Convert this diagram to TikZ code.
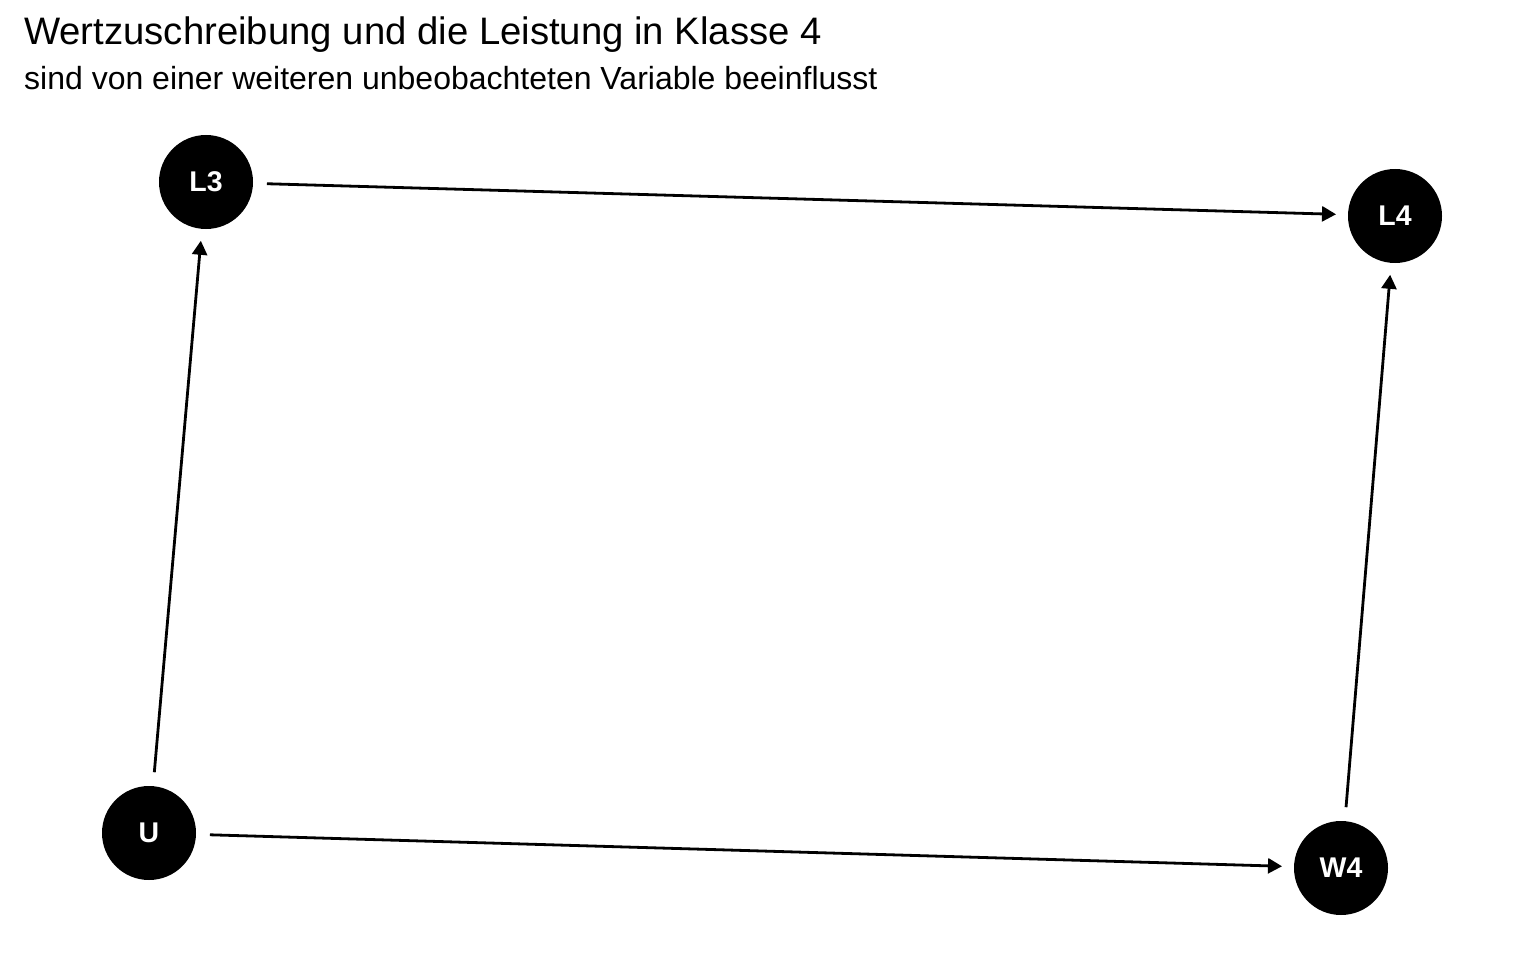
\documentclass[tikz,border=0pt]{standalone}
\usepackage{fontspec}
\setmainfont{Liberation Sans}
\usetikzlibrary{arrows.meta}
\begin{document}
\begin{tikzpicture}[x=1pt,y=-1pt,
  dagnode/.style={circle,fill=black,text=white,inner sep=0pt,outer sep=0pt,minimum size=94pt,font=\fontsize{28.5}{32}\selectfont\bfseries},
  conn/.style={line width=2.8pt,-{Triangle[length=14pt,width=15pt]},shorten <=14pt,shorten >=12pt}]
\useasboundingbox (0,0) rectangle (1536,960);
\node[anchor=base west,inner sep=0pt,font=\fontsize{38.3}{44}\selectfont] (title) at (24,45) {Wertzuschreibung und die Leistung in Klasse 4};
\node[anchor=base west,inner sep=0pt,font=\fontsize{32}{38}\selectfont] (subtitle) at (24,90) {sind von einer weiteren unbeobachteten Variable beeinflusst};
\node[dagnode] (L3) at (206,182) {L3};
\node[dagnode] (L4) at (1395,216) {L4};
\node[dagnode] (U) at (149,833) {U};
\node[dagnode] (W4) at (1341,868) {W4};
\draw[conn] (L3) -- (L4);
\draw[conn] (U) -- (L3);
\draw[conn] (U) -- (W4);
\draw[conn] (W4) -- (L4);
\end{tikzpicture}
\end{document}
